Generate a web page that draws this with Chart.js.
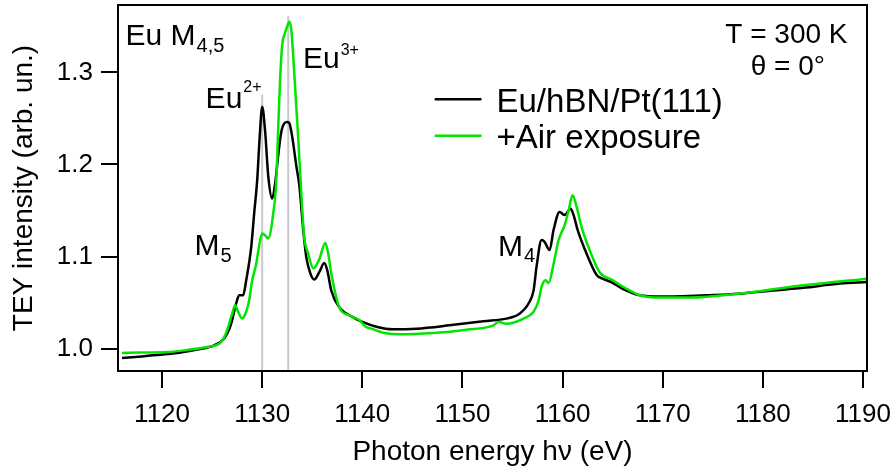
<!DOCTYPE html>
<html><head><meta charset="utf-8">
<script src="https://cdn.jsdelivr.net/npm/chart.js@4/dist/chart.umd.min.js"></script>
<style>html,body{margin:0;padding:0;background:#fff;}#wrap{width:895px;height:471px;}</style>
</head><body><div id="wrap"><canvas id="c" width="895" height="471"></canvas></div>
<script>
// ---- data ----
const seriesLabels = ['Eu/hBN/Pt(111)', '+Air exposure'];
const cleanEnergy = [1116.0,1118,1120,1122,1123.5,1125.2,1126.2,1126.9,1127.4,1127.7,1128.1,1128.4,1128.9,1129.2,1129.5,1129.75,1130.0,1130.3,1130.6,1131.0,1131.3,1131.6,1131.9,1132.2,1132.5,1132.7,1133.0,1133.4,1133.7,1134.1,1134.4,1134.8,1135.2,1135.7,1136.2,1136.5,1136.9,1137.7,1139.1,1140.0,1141.5,1143.0,1145.4,1148.7,1152.1,1154.4,1155.2,1155.7,1156.2,1156.6,1157.1,1157.4,1157.9,1158.2,1158.7,1159.1,1159.7,1160.2,1160.8,1161.1,1161.5,1162.4,1163.4,1164.0,1164.9,1166.0,1167.7,1169.7,1172,1174.4,1178,1181.0,1184,1187.7,1190.4];
const cleanTEY    = [0.9898,0.9915,0.9935,0.9960,0.999,1.0036,1.011,1.027,1.049,1.058,1.058,1.074,1.110,1.147,1.183,1.230,1.2626,1.235,1.188,1.163,1.180,1.210,1.235,1.2446,1.246,1.245,1.230,1.199,1.178,1.129,1.0996,1.082,1.075,1.083,1.093,1.085,1.063,1.045,1.034,1.029,1.0235,1.021,1.0217,1.0253,1.0297,1.0326,1.035,1.038,1.043,1.049,1.063,1.089,1.118,1.116,1.107,1.129,1.1485,1.145,1.152,1.145,1.129,1.103,1.080,1.076,1.072,1.065,1.058,1.0565,1.057,1.058,1.060,1.063,1.066,1.0707,1.0724];
const airEnergy = [1116.0,1118,1120.5,1122.5,1124.5,1125.9,1126.5,1127.0,1127.3,1127.6,1128.0,1128.4,1128.7,1129.0,1129.4,1129.7,1130.0,1130.3,1130.6,1131.1,1131.4,1131.6,1131.8,1132.0,1132.25,1132.5,1132.7,1132.9,1133.2,1133.6,1133.9,1134.2,1134.6,1135.1,1135.7,1136.3,1136.6,1136.9,1137.7,1138.7,1139.7,1140.3,1140.9,1142.2,1143.7,1147.1,1150.4,1153.1,1153.6,1154.4,1156.1,1157.1,1157.6,1157.9,1158.3,1158.6,1159.1,1159.6,1160.2,1160.6,1161.0,1161.4,1161.9,1162.7,1163.7,1164.9,1166.4,1167.7,1169.7,1172.7,1177.7,1182.7,1190.4];
const airTEY    = [0.9952,0.9958,0.9963,0.9985,1.0017,1.007,1.020,1.038,1.047,1.040,1.0326,1.040,1.0525,1.074,1.092,1.112,1.125,1.123,1.1196,1.1467,1.181,1.24,1.295,1.330,1.342,1.350,1.355,1.347,1.300,1.228,1.17,1.121,1.103,1.087,1.097,1.1148,1.103,1.0815,1.045,1.036,1.031,1.024,1.0217,1.017,1.0155,1.017,1.0206,1.0253,1.029,1.027,1.0326,1.040,1.052,1.067,1.0742,1.0713,1.092,1.118,1.134,1.150,1.1666,1.154,1.132,1.107,1.083,1.075,1.065,1.058,1.0554,1.0554,1.0598,1.067,1.076];
const markerEnergy = [1130.0, 1132.6];
const markerTop    = [1.276, 1.361];
const xTickValues = [1120,1130,1140,1150,1160,1170,1180,1190];
const yTickValues = [1.0,1.1,1.2,1.3];
const xRange = [1115.6, 1190.4];
const yRange = [0.9757, 1.3732];

const FONT = "'Liberation Sans', Arial, Helvetica, sans-serif";
const GREEN = '#00e600';

const toXY = (xs, ys) => xs.map((x, i) => ({x: x, y: ys[i]}));

const markerSets = markerEnergy.map((e, i) => ({
  label: 'marker' + i,
  data: [{x: e, y: yRange[0]}, {x: e, y: markerTop[i]}],
  borderColor: '#c8c8c8', borderWidth: 2, pointRadius: 0, order: 3
}));

const annotPlugin = {
  id: 'annot',
  afterDraw(chart) {
    const ctx = chart.ctx, xs = chart.scales.x, ys = chart.scales.y, ca = chart.chartArea;
    const X = v => xs.getPixelForValue(v), Y = v => ys.getPixelForValue(v);
    ctx.save();
    ctx.strokeStyle = '#000'; ctx.lineWidth = 2;
    ctx.strokeRect(ca.left, ca.top, ca.right - ca.left, ca.bottom - ca.top);
    ctx.fillStyle = '#000';
    ctx.textBaseline = 'alphabetic';
    function scripted(base, script, xv, yv, size, ssize, dy) {
      ctx.textAlign = 'left';
      ctx.font = size + 'px ' + FONT;
      const x = X(xv), y = Y(yv);
      ctx.fillText(base, x, y);
      const w = ctx.measureText(base).width;
      ctx.font = ssize + 'px ' + FONT;
      ctx.fillText(script, x + w + 1, y + dy);
    }
    scripted('Eu M', '4,5', 1116.35, 1.3297, 30, 20, 7);
    scripted('Eu', '2+', 1124.35, 1.2617, 30, 16, -16);
    scripted('Eu', '3+', 1134.07, 1.3043, 30, 16, -13);
    scripted('M', '5', 1123.25, 1.1014, 30, 20, 7);
    scripted('M', '4', 1153.56, 1.1003, 30, 20, 6);
    ctx.textAlign = 'center';
    ctx.font = '28px ' + FONT;
    ctx.fillText('T = 300 K', X(1182.35), Y(1.3315));
    ctx.fillText('\u03b8 = 0\u00b0', X(1182.5), Y(1.297));
    const rows = [
      {ds: chart.data.datasets[2], lineY: 1.2709, textY: 1.2572},
      {ds: chart.data.datasets[3], lineY: 1.2311, textY: 1.2177}
    ];
    ctx.textAlign = 'left';
    ctx.font = '33px ' + FONT;
    rows.forEach(r => {
      ctx.strokeStyle = r.ds.borderColor; ctx.lineWidth = 2.5;
      ctx.beginPath(); ctx.moveTo(X(1147.23), Y(r.lineY)); ctx.lineTo(X(1151.9), Y(r.lineY)); ctx.stroke();
      ctx.fillStyle = '#000';
      ctx.fillText(r.ds.label, X(1153.4), Y(r.textY));
    });
    ctx.restore();
  }
};

new Chart(document.getElementById('c'), {
  type: 'line',
  data: {
    datasets: markerSets.concat([
      {label: seriesLabels[0], data: toXY(cleanEnergy, cleanTEY), borderColor: '#000', borderWidth: 2.5,
       pointRadius: 0, cubicInterpolationMode: 'monotone', order: 2},
      {label: seriesLabels[1], data: toXY(airEnergy, airTEY), borderColor: GREEN, borderWidth: 2.5,
       pointRadius: 0, cubicInterpolationMode: 'monotone', order: 1}
    ])
  },
  options: {
    responsive: false, animation: false, devicePixelRatio: 1,
    layout: {padding: {top: 5, right: 28, bottom: 0, left: 0}},
    plugins: {legend: {display: false}, tooltip: {enabled: false}},
    scales: {
      x: {
        type: 'linear', min: xRange[0], max: xRange[1],
        afterBuildTicks: s => { s.ticks = xTickValues.map(v => ({value: v})); },
        afterFit: s => { s.height = 100; s.paddingLeft = 0; s.paddingRight = 0; },
        ticks: {font: {family: FONT, size: 26}, color: '#000', padding: 11, maxRotation: 0, autoSkip: false,
                callback: v => String(v)},
        grid: {drawOnChartArea: false, drawTicks: true, tickLength: 17, color: '#000', lineWidth: 2},
        border: {display: true, color: '#000', width: 2},
        title: {display: true, text: 'Photon energy h\u03bd (eV)', font: {family: FONT, size: 28}, color: '#000',
                padding: {top: 0, bottom: 2}}
      },
      y: {
        type: 'linear', min: yRange[0], max: yRange[1],
        afterBuildTicks: s => { s.ticks = yTickValues.map(v => ({value: v})); },
        afterFit: s => { s.width = 118; s.paddingTop = 0; s.paddingBottom = 0; },
        ticks: {font: {family: FONT, size: 26}, color: '#000', padding: 8, autoSkip: false,
                callback: v => Number(v).toFixed(1)},
        grid: {drawOnChartArea: false, drawTicks: true, tickLength: 17, color: '#000', lineWidth: 2},
        border: {display: true, color: '#000', width: 2},
        title: {display: true, text: 'TEY intensity (arb. un.)', font: {family: FONT, size: 28}, color: '#000',
                padding: {top: 7, bottom: 0}}
      }
    }
  },
  plugins: [annotPlugin]
});
</script></body></html>
